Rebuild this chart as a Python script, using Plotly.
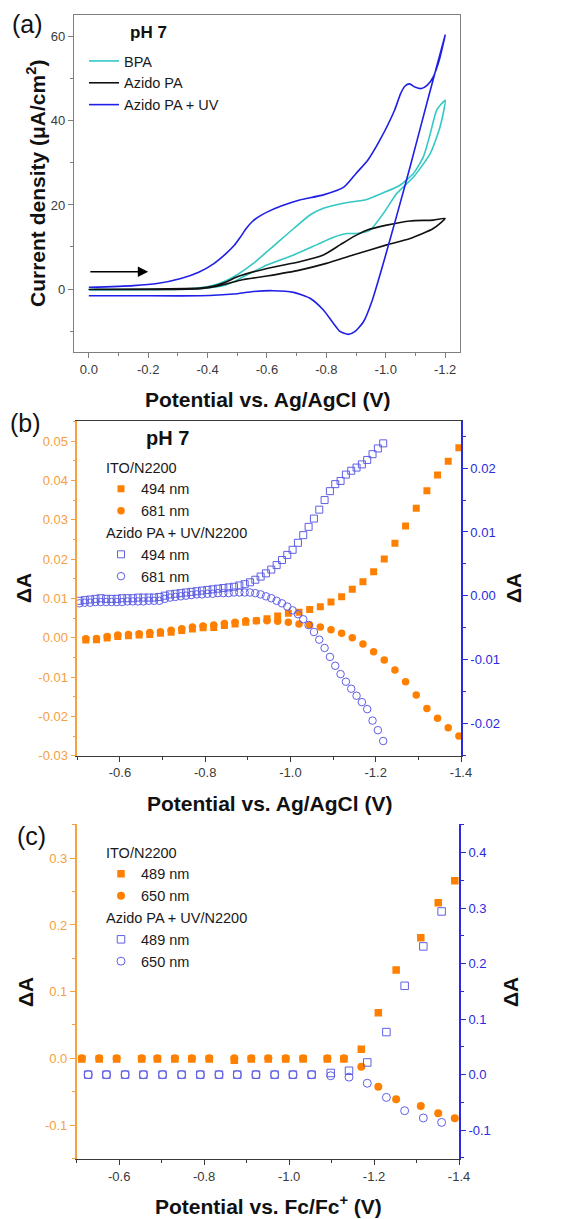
import plotly.graph_objects as go

# ---------------- Panel (a): cyclic voltammograms ----------------
bpa_E = [0, -0.26, -0.374, -0.42, -0.46, -0.50, -0.554, -0.62, -0.69, -0.745, -0.79, -0.857, -0.936, -0.992,
         -1.048, -1.093, -1.127, -1.15, -1.172, -1.20, -1.183, -1.15, -1.094, -1.037, -0.992, -0.947,
         -0.902, -0.869, -0.824, -0.767, -0.69, -0.60, -0.52, -0.464, -0.374, 0]
bpa_j = [-0.2, -0.1, 0.3, 0.9, 1.9, 3.4, 6.1, 10.1, 14.4, 17.6, 19.2, 20.4, 21.3, 22.9,
         24.7, 27.5, 31.5, 37.0, 42.6, 44.9, 38.6, 32.3, 26.7, 22.7, 18.0, 14.0,
         13.2, 13.2, 12.3, 10.5, 8.1, 5.7, 2.9, 1.0, 0.1, -0.1]

azido_E = [0, -0.374, -0.42, -0.46, -0.50, -0.60, -0.71, -0.79, -0.846, -0.89, -0.936, -1.003, -1.082, -1.16,
           -1.20, -1.16, -1.082, -1.003, -0.89, -0.80, -0.71, -0.60, -0.51, -0.44, -0.374, 0]
azido_j = [-0.1, 0.2, 0.7, 1.6, 2.9, 4.9, 6.5, 8.1, 10.5, 12.4, 14.0, 15.2, 16.2, 16.4,
           16.8, 14.4, 12.0, 10.5, 8.1, 6.1, 4.5, 3.1, 2.1, 0.8, 0.1, -0.1]

uv_E = [0, -0.15, -0.23, -0.31, -0.37, -0.42, -0.46, -0.49, -0.51, -0.53, -0.55, -0.57, -0.60, -0.65, -0.71,
        -0.79, -0.86, -0.90, -0.94, -0.98, -1.03, -1.05, -1.065, -1.08, -1.10, -1.12, -1.14, -1.16,
        -1.18, -1.20, -1.141, -1.082, -1.039, -0.995, -0.955, -0.925, -0.897, -0.874, -0.846, -0.824,
        -0.79, -0.745, -0.69, -0.62, -0.554, -0.487, -0.374, -0.15, 0]
uv_j = [0.4, 0.8, 1.3, 2.5, 4.0, 6.0, 8.3, 10.4, 12.3, 14.4, 16.0, 17.1, 18.3, 19.8, 21.2,
        22.4, 24.3, 27.5, 30.7, 35.4, 42.6, 46.5, 48.3, 48.8, 48.0, 47.7, 48.5, 50.5,
        54.4, 60.4, 44.9, 29.1, 18.0, 6.9, -2.6, -7.8, -10.1, -10.8, -10.1, -8.2,
        -5.0, -2.2, -0.8, -0.4, -0.6, -1.2, -1.6, -1.6, -1.6]

# ---------------- Panel (b): pH 7 spectroelectrochemistry ----------------
b_ito_E = [-0.520, -0.545, -0.570, -0.595, -0.620, -0.645, -0.670, -0.695, -0.720, -0.745, -0.770, -0.795,
           -0.820, -0.845, -0.870, -0.895, -0.920, -0.945, -0.970, -0.995, -1.020, -1.045, -1.070, -1.095,
           -1.120, -1.145, -1.170, -1.195, -1.220, -1.245, -1.270, -1.295, -1.320, -1.345, -1.370, -1.395]
b_ito_494 = [-0.0006, -0.0005, -0.0001, 0.0003, 0.0005, 0.0007, 0.0008, 0.0011, 0.0014, 0.0018, 0.0022, 0.0025,
             0.0026, 0.0031, 0.0035, 0.0039, 0.0043, 0.0048, 0.0055, 0.0062, 0.0065, 0.0072, 0.0079, 0.0091,
             0.0104, 0.0123, 0.0142, 0.0168, 0.0200, 0.0240, 0.0284, 0.0329, 0.0374, 0.0414, 0.0449, 0.0483]
b_ito_681 = [-0.0003, -0.0002, 0.0003, 0.0007, 0.0008, 0.0010, 0.0013, 0.0015, 0.0019, 0.0023, 0.0027, 0.0030,
             0.0032, 0.0036, 0.0039, 0.0043, 0.0043, 0.0043, 0.0042, 0.0039, 0.0035, 0.0032, 0.0027, 0.0020,
             0.0011, 0.0000, -0.0016, -0.0036, -0.0057, -0.0082, -0.0112, -0.0146, -0.0180, -0.0205, -0.0229, -0.0250]

b_uv_E = [-0.505, -0.5175, -0.530, -0.5425, -0.555, -0.5675, -0.580, -0.5925, -0.605, -0.6175, -0.630, -0.6425,
          -0.655, -0.6675, -0.680, -0.6925, -0.705, -0.7175, -0.730, -0.7425, -0.755, -0.7675, -0.780, -0.7925,
          -0.805, -0.8175, -0.830, -0.8425, -0.855, -0.8675, -0.880, -0.8925, -0.905, -0.9175, -0.930, -0.9425,
          -0.955, -0.9675, -0.980, -0.9925, -1.005, -1.0175, -1.030, -1.0425, -1.055, -1.0675, -1.080, -1.0925,
          -1.105, -1.1175, -1.130, -1.1425, -1.155, -1.1675, -1.180, -1.1925, -1.205, -1.2175]
b_uv_494 = [-0.0008, -0.0007, -0.0006, -0.0005, -0.0004, -0.0005, -0.0005, -0.0005, -0.0004, -0.0004, -0.0004, -0.0003,
            -0.0003, -0.0003, -0.0003, -0.0002, 0.0000, 0.0002, 0.0003, 0.0004, 0.0005, 0.0006, 0.0007, 0.0008,
            0.0009, 0.0010, 0.0011, 0.0012, 0.0013, 0.0014, 0.0016, 0.0018, 0.0021, 0.0025, 0.0030, 0.0035,
            0.0041, 0.0048, 0.0056, 0.0064, 0.0072, 0.0083, 0.0095, 0.0108, 0.0121, 0.0135, 0.0150, 0.0164,
            0.0175, 0.0180, 0.0190, 0.0196, 0.0201, 0.0206, 0.0213, 0.0222, 0.0231, 0.0239]
b_uv_681 = [-0.0012, -0.0011, -0.0011, -0.0010, -0.0010, -0.0010, -0.0010, -0.0010, -0.0010, -0.0009, -0.0009, -0.0009,
            -0.0009, -0.0008, -0.0008, -0.0008, -0.0005, -0.0003, -0.0002, -0.0001, 0.0000, 0.0001, 0.0002, 0.0002,
            0.0003, 0.0003, 0.0004, 0.0004, 0.0004, 0.0005, 0.0005, 0.0005, 0.0005, 0.0004, 0.0002, -0.0001,
            -0.0004, -0.0008, -0.0012, -0.0017, -0.0023, -0.0029, -0.0037, -0.0046, -0.0057, -0.0069, -0.0082, -0.0096,
            -0.0110, -0.0123, -0.0135, -0.0146, -0.0157, -0.0167, -0.0178, -0.0196, -0.0211, -0.0228]

# ---------------- Panel (c): vs Fc/Fc+ ----------------
c_ito_E = [-0.512, -0.553, -0.594, -0.653, -0.690, -0.731, -0.771, -0.812, -0.871, -0.911, -0.951,
           -0.992, -1.033, -1.090, -1.129, -1.170, -1.210, -1.252, -1.310, -1.351, -1.390]
c_ito_489 = [-0.001, -0.001, -0.001, -0.001, -0.001, -0.001, -0.001, -0.001, -0.003, -0.001, -0.001,
             -0.001, -0.001, -0.001, -0.001, 0.0135, 0.0685, 0.1325, 0.181, 0.2335, 0.2665]
c_ito_650 = [0.0, 0.0, 0.0, 0.0, 0.0, 0.0, 0.0, 0.0, 0.0, 0.0, 0.0,
             0.0, 0.0, 0.0, 0.0, -0.0125, -0.0425, -0.0615, -0.0715, -0.0825, -0.090]
c_uv_E = [-0.527, -0.570, -0.614, -0.657, -0.702, -0.747, -0.791, -0.835, -0.878, -0.922,
          -0.966, -1.009, -1.053, -1.098, -1.141, -1.184, -1.229, -1.272, -1.316, -1.359]
c_uv_489 = [0.0, 0.0, 0.0, 0.0, 0.0, 0.0, 0.0, 0.0, 0.0, 0.0,
            0.0, 0.0, 0.0, 0.003, 0.007, 0.022, 0.0767, 0.160, 0.231, 0.294]
c_uv_650 = [0.0, 0.0, 0.0, 0.0, 0.0, 0.0, 0.0, 0.0, 0.0, 0.0,
            0.0, 0.0, 0.0, -0.002, -0.0045, -0.0155, -0.041, -0.065, -0.078, -0.086]

# ---------------- Tick labels ----------------
a_xticks = [0.0, -0.2, -0.4, -0.6, -0.8, -1.0, -1.2]
a_xtext = ['0.0', '-0.2', '-0.4', '-0.6', '-0.8', '-1.0', '-1.2']
a_yticks = [0, 20, 40, 60]
a_ytext = ['0', '20', '40', '60']
bc_xticks = [-0.6, -0.8, -1.0, -1.2, -1.4]
bc_xtext = ['-0.6', '-0.8', '-1.0', '-1.2', '-1.4']
b_lticks = [-0.03, -0.02, -0.01, 0.0, 0.01, 0.02, 0.03, 0.04, 0.05]
b_ltext = ['-0.03', '-0.02', '-0.01', '0.00', '0.01', '0.02', '0.03', '0.04', '0.05']
b_rticks = [-0.02, -0.01, 0.0, 0.01, 0.02]
b_rtext = ['-0.02', '-0.01', '0.00', '0.01', '0.02']
c_lticks = [-0.1, 0.0, 0.1, 0.2, 0.3]
c_ltext = ['-0.1', '0.0', '0.1', '0.2', '0.3']
c_rticks = [-0.1, 0.0, 0.1, 0.2, 0.3, 0.4]
c_rtext = ['-0.1', '0.0', '0.1', '0.2', '0.3', '0.4']

FONT = 'Liberation Sans, Arial, sans-serif'
ORANGE = '#FF8000'
ORANGE_AX = '#F5A041'
BLUE_AX = '#2A2AE0'
BLUE_MK = '#5F5FE6'
CYAN = '#33C8C4'
UVBLUE = '#1F1FE6'
GREY = '#7F7F7F'
DARK = '#3A3A3A'

fig = go.Figure()

# Panel a traces
fig.add_trace(go.Scatter(x=bpa_E, y=bpa_j, mode='lines', name='BPA',
                         line=dict(color=CYAN, width=1.6, shape='spline', smoothing=0.6),
                         xaxis='x', yaxis='y', legend='legend'))
fig.add_trace(go.Scatter(x=azido_E, y=azido_j, mode='lines', name='Azido PA',
                         line=dict(color='#111111', width=1.6, shape='spline', smoothing=0.6),
                         xaxis='x', yaxis='y', legend='legend'))
fig.add_trace(go.Scatter(x=uv_E, y=uv_j, mode='lines', name='Azido PA + UV',
                         line=dict(color=UVBLUE, width=1.6, shape='spline', smoothing=0.6),
                         xaxis='x', yaxis='y', legend='legend'))

# Panel b traces
fig.add_trace(go.Scatter(x=b_ito_E, y=b_ito_494, mode='markers', name='494 nm',
                         marker=dict(symbol='square', size=7, color=ORANGE),
                         legendgroup='b_ito', legendgrouptitle=dict(text='ITO/N2200'),
                         xaxis='x2', yaxis='y2', legend='legend2'))
fig.add_trace(go.Scatter(x=b_ito_E, y=b_ito_681, mode='markers', name='681 nm',
                         marker=dict(symbol='circle', size=7.5, color=ORANGE),
                         legendgroup='b_ito', legendgrouptitle=dict(text='ITO/N2200'),
                         xaxis='x2', yaxis='y2', legend='legend2'))
fig.add_trace(go.Scatter(x=b_uv_E, y=b_uv_494, mode='markers', name='494 nm',
                         marker=dict(symbol='square-open', size=7, color=BLUE_MK, line=dict(width=1)),
                         legendgroup='b_uv', legendgrouptitle=dict(text='Azido PA + UV/N2200'),
                         xaxis='x2', yaxis='y3', legend='legend2'))
fig.add_trace(go.Scatter(x=b_uv_E, y=b_uv_681, mode='markers', name='681 nm',
                         marker=dict(symbol='circle-open', size=7.5, color=BLUE_MK, line=dict(width=1)),
                         legendgroup='b_uv', legendgrouptitle=dict(text='Azido PA + UV/N2200'),
                         xaxis='x2', yaxis='y3', legend='legend2'))

# Panel c traces
fig.add_trace(go.Scatter(x=c_ito_E, y=c_ito_489, mode='markers', name='489 nm',
                         marker=dict(symbol='square', size=7.5, color=ORANGE),
                         legendgroup='c_ito', legendgrouptitle=dict(text='ITO/N2200'),
                         xaxis='x3', yaxis='y4', legend='legend3'))
fig.add_trace(go.Scatter(x=c_ito_E, y=c_ito_650, mode='markers', name='650 nm',
                         marker=dict(symbol='circle', size=8, color=ORANGE),
                         legendgroup='c_ito', legendgrouptitle=dict(text='ITO/N2200'),
                         xaxis='x3', yaxis='y4', legend='legend3'))
fig.add_trace(go.Scatter(x=c_uv_E, y=c_uv_489, mode='markers', name='489 nm',
                         marker=dict(symbol='square-open', size=7.5, color=BLUE_MK, line=dict(width=1)),
                         legendgroup='c_uv', legendgrouptitle=dict(text='Azido PA + UV/N2200'),
                         xaxis='x3', yaxis='y5', legend='legend3'))
fig.add_trace(go.Scatter(x=c_uv_E, y=c_uv_650, mode='markers', name='650 nm',
                         marker=dict(symbol='circle-open', size=8, color=BLUE_MK, line=dict(width=1)),
                         legendgroup='c_uv', legendgrouptitle=dict(text='Azido PA + UV/N2200'),
                         xaxis='x3', yaxis='y5', legend='legend3'))

tickfont = dict(family=FONT, size=13, color=DARK)


def xax(domain, anchor, rng, vals, text, minor_dt, mirror, linecolor):
    return dict(domain=domain, anchor=anchor, range=rng, showgrid=False, zeroline=False, automargin=False,
                tickmode='array', tickvals=vals, ticktext=text, ticks='outside', ticklen=5,
                tickwidth=1, tickcolor=linecolor, showline=True, linecolor=linecolor, linewidth=1.2,
                mirror=mirror, tickfont=tickfont,
                minor=dict(dtick=minor_dt, tick0=0, ticks='outside', ticklen=3, tickcolor=linecolor))


def yax(domain, anchor, rng, vals, text, minor_dt, color, tcolor, side='left', overlay=None, mirror=False, lw=1.5):
    d = dict(anchor=anchor, range=rng, showgrid=False, zeroline=False, side=side, automargin=False,
             tickmode='array', tickvals=vals, ticktext=text, ticks='outside', ticklen=5,
             tickwidth=1, tickcolor=color, showline=True, linecolor=color, linewidth=lw, mirror=mirror,
             tickfont=dict(family=FONT, size=13, color=tcolor),
             minor=dict(dtick=minor_dt, tick0=0, ticks='outside', ticklen=3, tickcolor=color))
    if overlay:
        d['overlaying'] = overlay
    else:
        d['domain'] = domain
    return d


legfont = dict(family=FONT, size=14.5, color='#1A1A1A')

fig.update_layout(
    template='none',
    width=566, height=1219, autosize=False,
    margin=dict(l=0, r=0, t=0, b=0, pad=0),
    paper_bgcolor='white', plot_bgcolor='white',
    font=dict(family=FONT, color='#1A1A1A'),
    showlegend=True,
    xaxis=xax([0.1307, 0.8127], 'y', [0.05, -1.25], a_xticks, a_xtext, 0.1, True, GREY),
    yaxis=yax([0.7112, 0.9877], 'x', [-15, 65.2], a_yticks, a_ytext, 10, GREY, DARK, mirror=True, lw=1.2),
    xaxis2=xax([0.1366, 0.8145], 'y2', [-0.5, -1.4], bc_xticks, bc_xtext, 0.1, True, DARK),
    yaxis2=yax([0.3801, 0.6546], 'x2', [-0.03, 0.0551], b_lticks, b_ltext, 0.005, ORANGE_AX, ORANGE_AX),
    yaxis3=yax(None, 'x2', [-0.0251, 0.0274], b_rticks, b_rtext, 0.005, BLUE_AX, BLUE_AX,
               side='right', overlay='y2'),
    xaxis3=xax([0.1355, 0.8110], 'y4', [-0.5, -1.4], bc_xticks, bc_xtext, 0.1, False, DARK),
    yaxis4=yax([0.0492, 0.3238], 'x3', [-0.151, 0.351], c_lticks, c_ltext, 0.05, ORANGE_AX, ORANGE_AX),
    yaxis5=yax(None, 'x3', [-0.152, 0.451], c_rticks, c_rtext, 0.05, BLUE_AX, BLUE_AX,
               side='right', overlay='y4'),
    legend=dict(x=84 / 566, y=1 - 45 / 1219, xanchor='left', yanchor='top', bgcolor='rgba(0,0,0,0)',
                font=legfont, tracegroupgap=0, borderwidth=0),
    legend2=dict(x=101 / 566, y=1 - 451 / 1219, xanchor='left', yanchor='top', bgcolor='rgba(0,0,0,0)',
                 font=legfont, tracegroupgap=0, grouptitlefont=legfont, traceorder='grouped', borderwidth=0),
    legend3=dict(x=101 / 566, y=1 - 836 / 1219, xanchor='left', yanchor='top', bgcolor='rgba(0,0,0,0)',
                 font=legfont, tracegroupgap=0, grouptitlefont=legfont, traceorder='grouped', borderwidth=0),
)

bold = dict(family=FONT, size=21, color='#111111')
ann = [
    dict(text='(a)', x=27 / 566, y=1 - 24 / 1219, font=dict(family=FONT, size=25, color='#111')),
    dict(text='(b)', x=25 / 566, y=1 - 423 / 1219, font=dict(family=FONT, size=25, color='#111')),
    dict(text='(c)', x=31 / 566, y=1 - 836 / 1219, font=dict(family=FONT, size=25, color='#111')),
    dict(text='<b>Potential vs. Ag/AgCl (V)</b>', x=267 / 566, y=1 - 400 / 1219, font=bold),
    dict(text='<b>Current density (μA/cm<sup>2</sup>)</b>', x=36 / 566, y=1 - 184 / 1219, font=bold,
         textangle=-90),
    dict(text='<b>Potential vs. Ag/AgCl (V)</b>', x=269 / 566, y=1 - 803 / 1219, font=bold),
    dict(text='<b>ΔA</b>', x=23 / 566, y=1 - 588 / 1219, font=bold, textangle=-90),
    dict(text='<b>ΔA</b>', x=513 / 566, y=1 - 588 / 1219, font=bold, textangle=-90),
    dict(text='<b>Potential vs. Fc/Fc<sup>+</sup> (V)</b>', x=268 / 566, y=1 - 1205 / 1219, font=bold),
    dict(text='<b>ΔA</b>', x=25 / 566, y=1 - 992 / 1219, font=bold, textangle=-90),
    dict(text='<b>ΔA</b>', x=510 / 566, y=1 - 992 / 1219, font=bold, textangle=-90),
    dict(text='<b>pH 7</b>', x=128 / 566, y=1 - 33 / 1219, xanchor='left',
         font=dict(family=FONT, size=17, color='#111')),
    dict(text='<b>pH 7</b>', x=167 / 566, y=1 - 438 / 1219,
         font=dict(family=FONT, size=20, color='#111')),
]
for a in ann:
    a.setdefault('xref', 'paper')
    a.setdefault('yref', 'paper')
    a.setdefault('showarrow', False)
    a.setdefault('xanchor', 'center')
    a.setdefault('yanchor', 'middle')
fig.update_layout(annotations=ann)

# scan-direction arrow in panel a
fig.add_annotation(x=-0.2, y=4.1, ax=0.0, ay=4.1, xref='x', yref='y', axref='x', ayref='y',
                   showarrow=True, arrowhead=2, arrowsize=1.3, arrowwidth=1.6, arrowcolor='#000', text='')

# remove the browser's default 8px page margin so the figure sits at the window origin
fig.write_html('out.html', config={'displayModeBar': False},
               post_script="document.body.style.margin='0px';document.body.style.overflow='hidden';")
